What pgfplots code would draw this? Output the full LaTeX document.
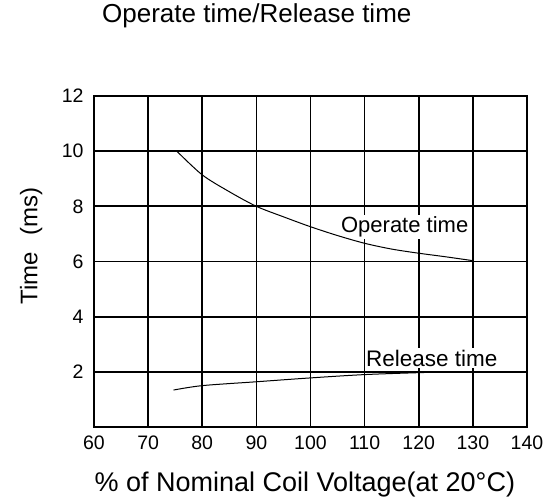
\documentclass[border=0pt]{standalone}
\usepackage{fontspec}
\setmainfont{Liberation Sans}
\usepackage{pgfplots}
\pgfplotsset{compat=1.18}
\begin{document}
\begin{tikzpicture}
\useasboundingbox (0,0) rectangle (551pt,503pt);
\begin{axis}[
  at={(94pt,76pt)}, anchor=south west,
  scale only axis, width=433pt, height=331pt,
  xmin=60, xmax=140, ymin=0, ymax=12,
  xtick={60,70,...,140}, ytick={0,2,...,12},
  yticklabels={,2,4,6,8,10,12},
  grid=major,
  major grid style={black, line width=1.7pt},
  axis line style={black, line width=1.9pt},
  major tick length=0pt,
  /pgf/number format/assume math mode=true,
  tick label style={font=\fontsize{19.5}{21}\selectfont},
  xticklabel style={yshift=-5pt},
  yticklabel style={xshift=-7pt},
  title={Operate time/Release time},
  title style={at={(rel axis cs:0.376,1.224)}, anchor=center, font=\fontsize{26}{29}\selectfont},
  xlabel={\% of Nominal Coil Voltage(at 20°C)},
  xlabel style={at={(rel axis cs:0.487,-0.175)}, anchor=center, font=\fontsize{27}{30}\selectfont},
  ylabel={Time\hspace{16pt}(ms)},
  ylabel style={at={(rel axis cs:-0.145,0.547)}, anchor=center, font=\fontsize{24}{26}\selectfont},
]
\node[fill=white, inner sep=1.5pt, font=\fontsize{22}{24}\selectfont] at (axis cs:117.4,7.25) {Operate time};
\node[fill=white, inner sep=1.5pt, font=\fontsize{22.5}{24}\selectfont] at (axis cs:122.4,2.5) {Release time};
\addplot[black, line width=1pt, smooth] coordinates {
(75.3,10.0) (80,9.14) (85,8.53) (90,8.0) (95,7.62) (100,7.26) (105,6.94) (110,6.66) (115,6.45) (120,6.3) (125,6.17) (130,6.03)
};
\addplot[black, line width=1pt, smooth] coordinates {
(74.7,1.34) (80,1.5) (90,1.64) (100,1.78) (110,1.9) (120,1.97) (126,2.0)
};
\end{axis}
\end{tikzpicture}
\end{document}
